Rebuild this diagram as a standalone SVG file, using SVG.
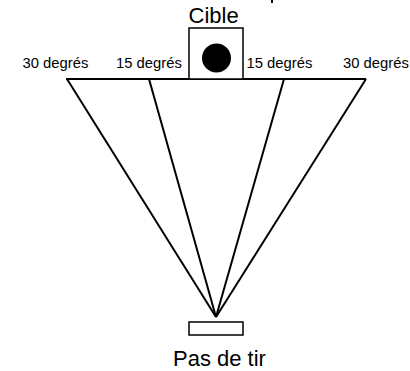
<svg xmlns="http://www.w3.org/2000/svg" width="410" height="371" viewBox="0 0 410 371">
<style>
.ln{stroke:#000;stroke-width:2;fill:none}
.box{stroke:#000;stroke-width:1.5;fill:#fff}
.lbl{font-family:"Liberation Sans",Arial,sans-serif;font-size:14.8px;fill:#000}
.big{font-family:"Liberation Sans",Arial,sans-serif;font-size:22px;fill:#000}
</style>
<rect width="410" height="371" fill="#fff"/>
<rect x="271" y="0" width="2" height="3" fill="#000"/>
<g id="connectors">
<line class="ln" x1="66" y1="79" x2="366" y2="79"/>
<line class="ln" x1="67" y1="79" x2="216" y2="317"/>
<line class="ln" x1="149" y1="79" x2="216" y2="317"/>
<line class="ln" x1="284" y1="79" x2="216" y2="317"/>
<line class="ln" x1="366" y1="79" x2="216" y2="317"/>
</g>
<g id="cible">
<rect class="box" x="189" y="28" width="54" height="51"/>
<circle cx="216.5" cy="58" r="14.5" fill="#000"/>
<text class="big" x="188.5" y="23">Cible</text>
</g>
<g id="pas-de-tir">
<rect class="box" x="189" y="322" width="54" height="13"/>
<text class="big" x="173" y="366">Pas de tir</text>
</g>
<g id="labels">
<text class="lbl" x="22.5" y="68">30 degrés</text>
<text class="lbl" x="116" y="68">15 degrés</text>
<text class="lbl" x="246.5" y="68">15 degrés</text>
<text class="lbl" x="343" y="68">30 degrés</text>
</g>
</svg>
